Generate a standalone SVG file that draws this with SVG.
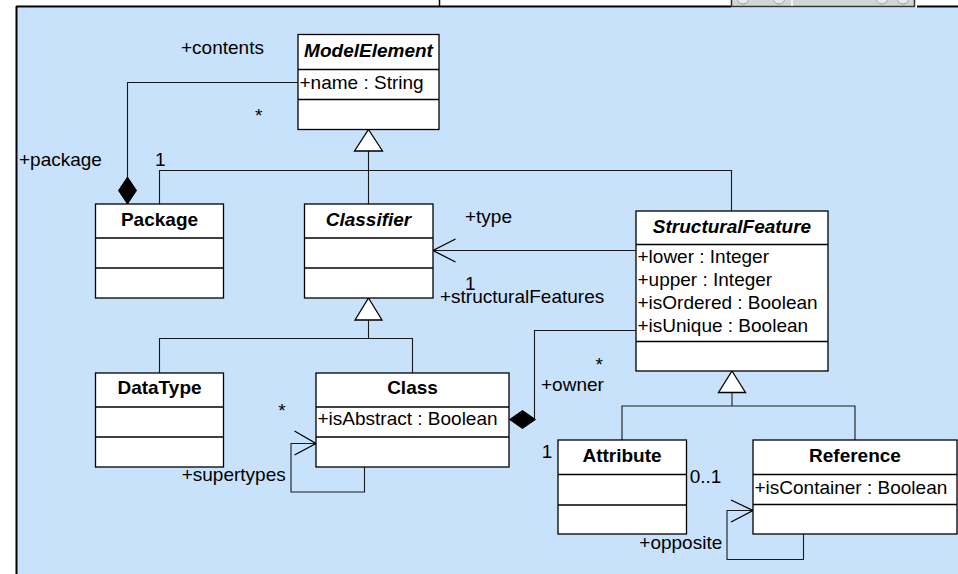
<svg xmlns="http://www.w3.org/2000/svg" width="958" height="574" viewBox="0 0 958 574">
  <style>
    .node rect { fill: #ffffff; stroke: #000000; stroke-width: 1.3; }
    .node line { stroke: #000000; stroke-width: 1.3; }
    .title { font-family: "Liberation Sans", Arial, sans-serif; font-size: 19px; font-weight: bold; text-anchor: middle; fill: #000; }
    .abstract { font-style: italic; }
    .attr { font-family: "Liberation Sans", Arial, sans-serif; font-size: 19px; fill: #000; }
    .lbl { font-family: "Liberation Sans", Arial, sans-serif; font-size: 19px; fill: #000; }
    .mid { text-anchor: middle; }
    .conn { fill: none; stroke: #1a1a1a; stroke-width: 1.1; }
    .gen { fill: #ffffff; stroke: #000000; stroke-width: 1.3; stroke-linejoin: miter; }
    .comp { fill: #000000; stroke: #000000; stroke-width: 1; }
    .nav { fill: none; stroke: #000000; stroke-width: 1.3; }
  </style>

  <!-- canvas -->
  <rect x="0" y="0" width="958" height="574" fill="#ffffff"/>
  <rect x="17" y="7.5" width="941" height="567" fill="#C8E2FC"/>
  <line x1="16" y1="6.5" x2="731" y2="6.5" stroke="#000" stroke-width="2"/>
  <line x1="917" y1="6.5" x2="958" y2="6.5" stroke="#000" stroke-width="2"/>
  <line x1="16.5" y1="6" x2="16.5" y2="574" stroke="#000" stroke-width="2"/>
  <line x1="439.5" y1="0" x2="439.5" y2="6" stroke="#000" stroke-width="1.5"/>

  <!-- scroll widget at the top edge -->
  <g id="scroll-widget">
    <rect x="731.5" y="-3" width="183" height="9.5" fill="#CFD8D6" stroke="#333" stroke-width="1.5"/>
    <circle cx="743" cy="-2" r="6" fill="#E6EBEA" stroke="#9aa4a2" stroke-width="1"/>
    <circle cx="779" cy="-2" r="6" fill="#E6EBEA" stroke="#9aa4a2" stroke-width="1"/>
    <line x1="792" y1="0" x2="792" y2="6" stroke="#ffffff" stroke-width="1.5"/>
    <circle cx="882" cy="-2" r="6" fill="#E6EBEA" stroke="#9aa4a2" stroke-width="1"/>
    <circle cx="903" cy="-2" r="6" fill="#E6EBEA" stroke="#9aa4a2" stroke-width="1"/>
  </g>

  <!-- connectors -->
  <g id="connectors">
    <!-- ModelElement contents / Package composition -->
    <path class="conn" d="M298,82.5 H127.5 V177"/>
    <polygon class="comp" points="127.5,177 136.5,190.5 127.5,204 118.5,190.5"/>

    <!-- generalizations to ModelElement -->
    <path class="conn" d="M159.5,204 V170.5 H731.5 V211"/>
    <path class="conn" d="M368.5,151 V204"/>
    <polygon class="gen" points="368.5,129.5 382.5,151 354.5,151"/>

    <!-- generalizations to Classifier -->
    <path class="conn" d="M368.5,320 V338.5"/>
    <path class="conn" d="M159.5,373 V338.5 H412.5 V373"/>
    <polygon class="gen" points="368.5,298 382,320 355,320"/>

    <!-- StructuralFeature type -> Classifier -->
    <path class="conn" d="M636,250.5 H433"/>
    <polyline class="nav" points="455.5,239 433,250.5 455.5,262"/>

    <!-- Class owner composition -->
    <path class="conn" d="M636,330.5 H534.5 V419.5"/>
    <polygon class="comp" points="509.5,419.5 522.5,410.5 535.5,419.5 522.5,428.5"/>

    <!-- Class supertypes self-association -->
    <path class="conn" d="M364.5,467 V492 H291 V443.5 H316"/>
    <polyline class="nav" points="294.5,431 316,443.5 294.5,455"/>

    <!-- generalizations to StructuralFeature -->
    <path class="conn" d="M732,392.5 V406"/>
    <path class="conn" d="M622,440 V406 H855 V440"/>
    <polygon class="gen" points="732,371 745.5,392.5 718.5,392.5"/>

    <!-- Reference opposite self-association -->
    <path class="conn" d="M803.5,534 V559.5 H727 V510.5 H753"/>
    <polyline class="nav" points="731,500 753,510.5 731,522"/>
  </g>

  <!-- connector labels -->
  <g id="labels">
    <text class="lbl" x="181" y="54">+contents</text>
    <text class="lbl mid" x="258.7" y="122">*</text>
    <text class="lbl" x="19" y="166">+package</text>
    <text class="lbl" x="155" y="166">1</text>
    <text class="lbl" x="465" y="223">+type</text>
    <text class="lbl" x="465" y="289.5">1</text>
    <text class="lbl" x="440" y="302.5">+structuralFeatures</text>
    <text class="lbl mid" x="599.3" y="371">*</text>
    <text class="lbl" x="541" y="391">+owner</text>
    <text class="lbl mid" x="282" y="417">*</text>
    <text class="lbl" x="181.7" y="481">+supertypes</text>
    <text class="lbl" x="541.7" y="457.5">1</text>
    <text class="lbl" x="689.7" y="482.5">0..1</text>
    <text class="lbl" x="639.3" y="549">+opposite</text>
  </g>

  <!-- classes -->
  <g id="ModelElement" class="node">
    <rect x="298" y="34.5" width="141" height="95"/>
    <line x1="298" y1="69.5" x2="439" y2="69.5"/>
    <line x1="298" y1="99.5" x2="439" y2="99.5"/>
    <text class="title abstract" x="368.5" y="57.3">ModelElement</text>
    <text class="attr" x="299.5" y="89">+name : String</text>
  </g>

  <g id="Package" class="node">
    <rect x="95.5" y="204" width="128" height="94"/>
    <line x1="95.5" y1="238" x2="223.5" y2="238"/>
    <line x1="95.5" y1="268" x2="223.5" y2="268"/>
    <text class="title" x="159.5" y="225.5">Package</text>
  </g>

  <g id="Classifier" class="node">
    <rect x="304.5" y="204" width="128.5" height="94"/>
    <line x1="304.5" y1="238" x2="433" y2="238"/>
    <line x1="304.5" y1="268" x2="433" y2="268"/>
    <text class="title abstract" x="368.5" y="225.5">Classifier</text>
  </g>

  <g id="StructuralFeature" class="node">
    <rect x="636" y="211" width="192" height="160"/>
    <line x1="636" y1="244.5" x2="828" y2="244.5"/>
    <line x1="636" y1="341.5" x2="828" y2="341.5"/>
    <text class="title abstract" x="732" y="232.7">StructuralFeature</text>
    <text class="attr" x="637.5" y="263.3">+lower : Integer</text>
    <text class="attr" x="637.5" y="286">+upper : Integer</text>
    <text class="attr" x="637.5" y="309.3">+isOrdered : Boolean</text>
    <text class="attr" x="637.5" y="332">+isUnique : Boolean</text>
  </g>

  <g id="DataType" class="node">
    <rect x="95.5" y="373" width="128" height="94"/>
    <line x1="95.5" y1="407" x2="223.5" y2="407"/>
    <line x1="95.5" y1="437" x2="223.5" y2="437"/>
    <text class="title" x="159.5" y="394">DataType</text>
  </g>

  <g id="Class" class="node">
    <rect x="316" y="373" width="193" height="94"/>
    <line x1="316" y1="407" x2="509" y2="407"/>
    <line x1="316" y1="437" x2="509" y2="437"/>
    <text class="title" x="412.5" y="394">Class</text>
    <text class="attr" x="317.5" y="425.3">+isAbstract : Boolean</text>
  </g>

  <g id="Attribute" class="node">
    <rect x="558" y="440" width="128.5" height="94"/>
    <line x1="558" y1="474.5" x2="686.5" y2="474.5"/>
    <line x1="558" y1="505" x2="686.5" y2="505"/>
    <text class="title" x="622" y="462">Attribute</text>
  </g>

  <g id="Reference" class="node">
    <rect x="753" y="440" width="204" height="94"/>
    <line x1="753" y1="474.5" x2="957" y2="474.5"/>
    <line x1="753" y1="504.5" x2="957" y2="504.5"/>
    <text class="title" x="855" y="462">Reference</text>
    <text class="attr" x="754.5" y="494">+isContainer : Boolean</text>
  </g>
</svg>
